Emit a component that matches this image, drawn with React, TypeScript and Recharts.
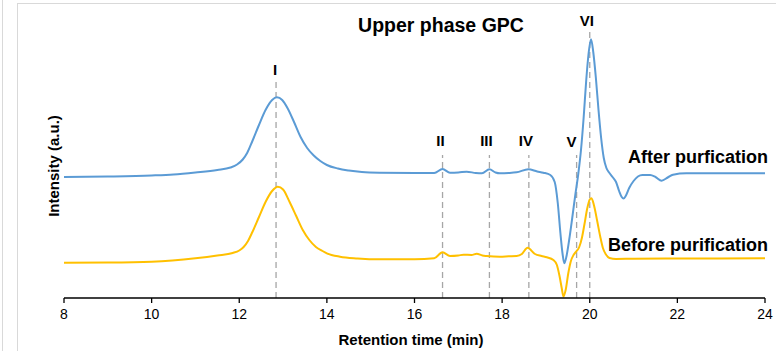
import React from 'react';
import { LineChart, Line, XAxis, YAxis, ReferenceLine } from 'recharts';

// retention time (min) / intensity (a.u.)
const afterTimes = [
  8, 9, 10, 10.5, 11, 11.5, 11.8, 11.95, 12.08, 12.18, 12.3, 12.45, 12.6, 12.75, 12.86, 12.98, 13.1, 13.25, 13.4,
  13.55, 13.7, 13.85, 14, 14.25, 14.5, 14.8, 15.2, 16, 16.45, 16.64, 16.81, 17, 17.19, 17.4, 17.54, 17.71,
  17.85, 17.95, 18.15, 18.33, 18.6, 18.8, 18.94, 19.1, 19.2, 19.27, 19.33, 19.38, 19.42, 19.47, 19.53,
  19.6, 19.67, 19.74, 19.8, 19.86, 19.92, 19.97, 20.03, 20.08, 20.14, 20.2, 20.26, 20.32, 20.38, 20.45,
  20.52, 20.6, 20.67, 20.73, 20.77, 20.82, 20.9, 21, 21.1, 21.2, 21.38, 21.5, 21.64, 21.78, 21.9, 22.2, 23, 24,
];
const afterValues = [
  121, 121.5, 122.5, 123.5, 125.5, 128, 130.5, 133.5, 138.5, 145, 157, 173, 188, 198, 200.7, 198, 190, 176, 161,
  150, 142.5, 137, 133, 129.5, 127.5, 126, 125.3, 125, 125, 129, 125.3, 125.5, 126.3, 125, 124.7, 128.7,
  125.5, 124.7, 125, 125.7, 128.7, 126.5, 125.3, 123, 116, 95, 65, 44, 34.7, 42, 58,
  80, 103, 124.7, 148, 180, 218, 243, 258.7, 246, 220, 188, 160, 140, 130, 125,
  121, 116, 107, 101, 99.5, 102, 110, 117, 121.5, 123, 123, 121, 117.3, 120.5, 123.3, 124.7, 124.7, 124.7,
];

const beforeTimes = [
  8, 9, 10, 11, 11.5, 11.85, 12, 12.1, 12.2, 12.3, 12.45, 12.6, 12.75, 12.88, 13, 13.15, 13.3, 13.45, 13.6, 13.75,
  13.9, 14, 14.3, 14.7, 15.2, 16, 16.45, 16.64, 16.81, 17, 17.12, 17.3, 17.42, 17.55, 17.65, 17.95, 18.15,
  18.33, 18.45, 18.58, 18.75, 18.9, 19.02, 19.17, 19.25, 19.31, 19.36, 19.4, 19.45, 19.51, 19.57, 19.63,
  19.7, 19.76, 19.82, 19.88, 19.94, 20, 20.04, 20.1, 20.17, 20.24, 20.3, 20.37, 20.45, 20.6, 21, 22, 24,
];
const beforeValues = [
  35.3, 35.5, 36.3, 39.7, 42.5, 45, 47.5, 51, 57, 66, 81, 96, 107, 111.3, 108.5, 96, 82, 68, 58, 51,
  47, 44.7, 41.3, 39.6, 38.7, 38.7, 39.7, 45.7, 42, 42.5, 43.3, 43, 44.3, 42.5, 42, 41.3, 41.7,
  42, 44, 50.3, 44, 42, 40.7, 38, 33, 22, 10, 1.5, 8, 24.7, 37, 43,
  47, 51, 60, 74, 89, 98.5, 99.7, 92, 77, 61.3, 50, 43.5, 40, 39, 39.3, 39.5, 39.7,
];

const xTicks = [8, 10, 12, 14, 16, 18, 20, 22, 24];

const peakNames = ['I', 'II', 'III', 'IV', 'V', 'VI'];
const peakTimes = [12.84, 16.64, 17.71, 18.61, 19.7, 20.0];
const peakLineTops = [218, 143, 143, 143, 143, 268];

// label placement next to each dashed marker (px)
const peakLabelOffset = [5, 9, 9, 9, 8, 4];
const peakLabelDx = [-1, -2, -3, -3, -5, -3];

const afterData = afterTimes.map((t, i) => ({ t, v: afterValues[i] }));
const beforeData = beforeTimes.map((t, i) => ({ t, v: beforeValues[i] }));

const FONT = '"Liberation Sans", Arial, sans-serif';

export default function App() {
  return (
    <div style={{ position: 'absolute', left: 0, top: 0, width: 776, height: 351, background: '#fff' }}>
      <div style={{ position: 'absolute', left: 2, top: 0, width: 1, height: 351, background: '#d9d9d9' }} />
      <div style={{ position: 'absolute', left: 17, top: 3, width: 1, height: 348, background: '#d9d9d9' }} />
      <div style={{ position: 'absolute', left: 17, top: 3, width: 759, height: 1, background: '#d9d9d9' }} />
      <div style={{ position: 'absolute', left: 0, top: 0 }}>
        <LineChart width={776} height={351} margin={{ top: 18, right: 11, bottom: 23, left: 64 }}>
          <XAxis
            type="number"
            dataKey="t"
            domain={[8, 24]}
            ticks={xTicks}
            allowDataOverflow
            height={30}
            tickSize={5}
            tickMargin={6}
            axisLine={{ stroke: '#000', strokeWidth: 1.3 }}
            tickLine={{ stroke: '#000', strokeWidth: 1.3 }}
            tick={{ fill: '#000', fontSize: 14, fontFamily: FONT }}
          />
          <YAxis hide type="number" domain={[0, 280]} />
          {peakNames.map((name, i) => (
            <ReferenceLine
              key={name}
              segment={[{ x: peakTimes[i], y: 0 }, { x: peakTimes[i], y: peakLineTops[i] }]}
              stroke="#a6a6a6"
              strokeWidth={1.3}
              strokeDasharray="6 4"
              label={{
                value: name,
                position: 'top',
                offset: peakLabelOffset[i],
                dx: peakLabelDx[i],
                fill: '#000',
                fontSize: 15,
                fontWeight: 'bold',
                fontFamily: FONT,
              }}
            />
          ))}
          <Line data={afterData} dataKey="v" type="monotone" stroke="#5b9bd5" strokeWidth={2} dot={false} isAnimationActive={false} />
          <Line data={beforeData} dataKey="v" type="monotone" stroke="#ffc000" strokeWidth={2} dot={false} isAnimationActive={false} />
        </LineChart>
      </div>
      <svg width={776} height={351} style={{ position: 'absolute', left: 0, top: 0, pointerEvents: 'none' }}>
        <g fontFamily={FONT} fontWeight="bold" fill="#000">
          <text x={441} y={25} fontSize={19.5} textAnchor="middle" dominantBaseline="central">Upper phase GPC</text>
          <text x={768} y={157} fontSize={18} textAnchor="end" dominantBaseline="central">After purfication</text>
          <text x={768} y={245} fontSize={18} textAnchor="end" dominantBaseline="central">Before purification</text>
          <text x={411} y={339} fontSize={15} textAnchor="middle" dominantBaseline="central">Retention time (min)</text>
          <text transform="translate(53,166) rotate(-90)" fontSize={15} textAnchor="middle" dominantBaseline="central">Intensity (a.u.)</text>
        </g>
      </svg>
    </div>
  );
}
